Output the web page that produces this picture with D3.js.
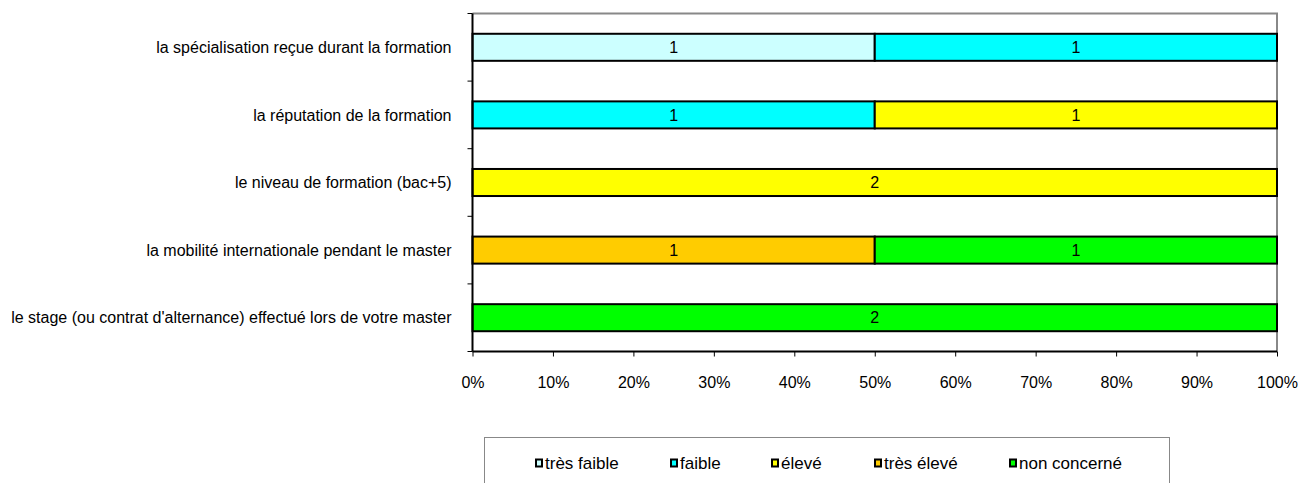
<!DOCTYPE html>
<html><head><meta charset="utf-8">
<script src="https://cdn.jsdelivr.net/npm/d3@7"></script>
<style>body{margin:0;background:#fff}svg{display:block}text{font-family:"Liberation Sans",Arial,sans-serif}</style>
</head><body><svg id="c" width="1298" height="483"></svg>
<script>
const categories = [
  "la spécialisation reçue durant la formation",
  "la réputation de la formation",
  "le niveau de formation (bac+5)",
  "la mobilité internationale pendant le master",
  "le stage (ou contrat d'alternance) effectué lors de votre master"
];
const seriesNames = ["très faible", "faible", "élevé", "très élevé", "non concerné"];
const seriesColors = ["#CCFFFF", "#00FFFF", "#FFFF00", "#FFCC00", "#00FF00"];
const tresFaible = [1, 0, 0, 0, 0];
const faible     = [1, 1, 0, 0, 0];
const eleve      = [0, 1, 2, 0, 0];
const tresEleve  = [0, 0, 0, 1, 0];
const nonConcerne= [0, 0, 0, 1, 2];
const xTicks = [0, 0.1, 0.2, 0.3, 0.4, 0.5, 0.6, 0.7, 0.8, 0.9, 1.0];

const seriesValues = [tresFaible, faible, eleve, tresEleve, nonConcerne];
const rows = categories.map((c, i) => {
  const r = {cat: c};
  seriesNames.forEach((s, j) => r[s] = seriesValues[j][i]);
  r.total = d3.sum(seriesNames, s => r[s]);
  return r;
});

const svg = d3.select("#c");
const L = 472.5, R = 1277, T = 13.5, B = 351.5;
const x = d3.scaleLinear().domain([0, 1]).range([L, R]);
const y = d3.scaleBand().domain(categories).range([T, B]).paddingInner(0.6).paddingOuter(0.3);

svg.append("path").attr("d", `M${L},${T}H${R}V${B}`).attr("fill", "none").attr("stroke", "#888").attr("stroke-width", 2);

const stack = d3.stack().keys(seriesNames).value((d, k) => d[k] / d.total);
const layers = stack(rows);

const g = svg.append("g");
layers.forEach((layer, j) => {
  layer.forEach((seg, i) => {
    const v = rows[i][seriesNames[j]];
    if (!v) return;
    const x0 = x(seg[0]), x1 = x(seg[1]);
    const yy = y(rows[i].cat);
    g.append("rect").attr("x", x0).attr("y", yy).attr("width", x1 - x0).attr("height", y.bandwidth())
      .attr("fill", seriesColors[j]).attr("stroke", "#000").attr("stroke-width", 2);
    g.append("text").attr("x", (x0 + x1) / 2).attr("y", yy + y.bandwidth() / 2).attr("dy", "0.35em")
      .attr("text-anchor", "middle").attr("font-size", 16).attr("fill", "#000").text(v);
  });
});

const yAxisG = svg.append("g").attr("transform", `translate(${L},0)`);
yAxisG.append("line").attr("x1", 0).attr("x2", 0).attr("y1", T).attr("y2", B).attr("stroke", "#000").attr("stroke-width", 2);
const bounds = d3.range(categories.length + 1).map(i => T + i * y.step());
yAxisG.selectAll("line.tk").data(bounds).join("line").attr("class", "tk")
  .attr("x1", -5).attr("x2", 0).attr("y1", d => d).attr("y2", d => d).attr("stroke", "#000").attr("stroke-width", 1);
yAxisG.selectAll("text").data(categories).join("text")
  .attr("x", -21).attr("y", d => y(d) + y.bandwidth() / 2).attr("dy", "0.35em")
  .attr("text-anchor", "end").attr("font-size", 16).attr("fill", "#000").text(d => d);

const xAxis = d3.axisBottom(x).tickValues(xTicks).tickFormat(d3.format(".0%")).tickSize(5).tickPadding(20);
const xg = svg.append("g").attr("transform", `translate(0,${B})`).call(xAxis);
xg.select(".domain").attr("stroke", "#000").attr("stroke-width", 2).attr("d", `M${L},0H${R}`);
xg.selectAll(".tick line").attr("stroke", "#000");
xg.selectAll(".tick text").attr("font-size", 16).attr("fill", "#000").attr("font-family", "Liberation Sans, Arial, sans-serif");

const lg = svg.append("g");
lg.append("rect").attr("x", 484.5).attr("y", 437.5).attr("width", 685).attr("height", 60)
  .attr("fill", "#fff").attr("stroke", "#888").attr("stroke-width", 1);
const legX = [536, 671, 772, 875, 1010];
seriesNames.forEach((s, j) => {
  lg.append("rect").attr("x", legX[j]).attr("y", 459.5).attr("width", 6).attr("height", 7)
    .attr("fill", seriesColors[j]).attr("stroke", "#000").attr("stroke-width", 2);
  lg.append("text").attr("x", legX[j] + 9).attr("y", 463).attr("dy", "0.35em")
    .attr("font-size", 17).attr("fill", "#000").text(s);
});
</script></body></html>
